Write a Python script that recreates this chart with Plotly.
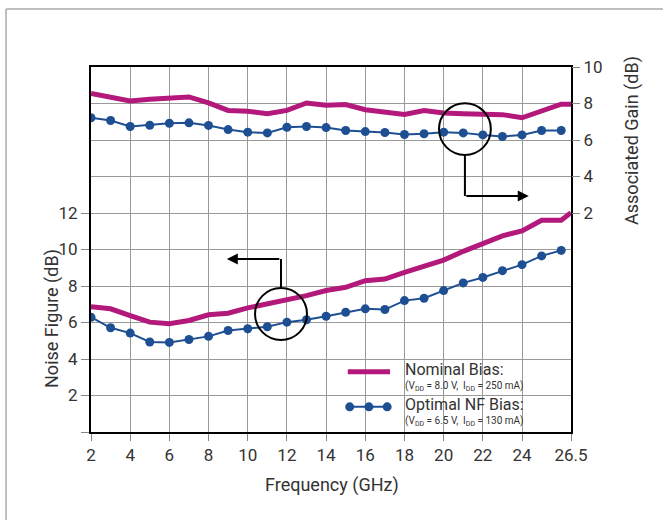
import plotly.graph_objects as go

# Frequency points (GHz)
freq = list(range(2, 27))
freq_nominal = freq + [26.5]

# Noise figure (dB), left axis
nf_nominal = [6.87, 6.75, 6.38, 6.02, 5.93, 6.11, 6.42, 6.51, 6.80, 7.02, 7.24, 7.47, 7.75,
              7.93, 8.29, 8.38, 8.75, 9.11, 9.42, 9.90, 10.33, 10.75, 11.02, 11.6, 11.6, 12.02]
nf_optimal = [6.29, 5.71, 5.42, 4.93, 4.91, 5.07, 5.24, 5.56, 5.66, 5.77, 6.02, 6.15, 6.34,
              6.56, 6.75, 6.71, 7.20, 7.33, 7.75, 8.17, 8.47, 8.84, 9.17, 9.65, 9.95]

# Associated gain (dB), right axis
gain_nominal = [8.55, 8.34, 8.14, 8.23, 8.32, 8.36, 8.03, 7.62, 7.58, 7.44, 7.62, 8.03, 7.90,
                7.94, 7.66, 7.53, 7.40, 7.62, 7.48, 7.44, 7.44, 7.39, 7.22, 7.58, 7.96, 7.96]
gain_optimal = [7.22, 7.07, 6.74, 6.81, 6.92, 6.94, 6.80, 6.57, 6.43, 6.39, 6.70, 6.74, 6.68,
                6.52, 6.46, 6.41, 6.30, 6.34, 6.43, 6.39, 6.28, 6.19, 6.28, 6.52, 6.52]

x_ticks = [2, 4, 6, 8, 10, 12, 14, 16, 18, 20, 22, 24, 26.5]
x_labels = ["2", "4", "6", "8", "10", "12", "14", "16", "18", "20", "22", "24", "26.5"]
nf_ticks = [0, 2, 4, 6, 8, 10, 12]
nf_labels = ["", "2", "4", "6", "8", "10", "12"]
gain_ticks = [2, 4, 6, 8, 10]

MAGENTA = "#B3197A"
BLUE = "#1F4F93"
TEXT = "#333333"
FONT = "Roboto, Liberation Sans, sans-serif"

fig = go.Figure()

fig.add_trace(go.Scatter(x=freq_nominal, y=nf_nominal, mode="lines",
                         line=dict(color=MAGENTA, width=5), yaxis="y"))
fig.add_trace(go.Scatter(x=freq, y=nf_optimal, mode="lines+markers",
                         line=dict(color=BLUE, width=2),
                         marker=dict(color=BLUE, size=9), yaxis="y"))
fig.add_trace(go.Scatter(x=freq_nominal, y=gain_nominal, mode="lines",
                         line=dict(color=MAGENTA, width=5), yaxis="y2"))
fig.add_trace(go.Scatter(x=freq, y=gain_optimal, mode="lines+markers",
                         line=dict(color=BLUE, width=2),
                         marker=dict(color=BLUE, size=9), yaxis="y2"))

shapes = []
line_black = dict(color="black", width=2)

# legend panel
shapes.append(dict(type="rect", xref="paper", yref="paper", x0=0.496, x1=0.998,
                   y0=0.003, y1=0.199, fillcolor="white", line=dict(width=0),
                   layer="between"))
shapes.append(dict(type="line", xref="paper", yref="paper", x0=0.535, x1=0.623,
                   y0=0.165, y1=0.165, line=dict(color=MAGENTA, width=5)))
shapes.append(dict(type="line", xref="paper", yref="paper", x0=0.537, x1=0.619,
                   y0=0.069, y1=0.069, line=dict(color=BLUE, width=2)))
for cx in (0.539, 0.579, 0.617):
    shapes.append(dict(type="circle", xref="paper", yref="paper",
                       x0=cx - 0.0094, x1=cx + 0.0094, y0=0.069 - 0.0123, y1=0.069 + 0.0123,
                       fillcolor=BLUE, line=dict(color=BLUE, width=0)))

# callout circles with leader lines
shapes.append(dict(type="circle", xref="paper", yref="paper", x0=0.725, x1=0.833,
                   y0=0.759, y1=0.901, line=line_black))
shapes.append(dict(type="line", xref="paper", yref="paper", x0=0.779, x1=0.779,
                   y0=0.759, y1=0.6466, line=line_black))
shapes.append(dict(type="circle", xref="paper", yref="paper", x0=0.3417, x1=0.45,
                   y0=0.252, y1=0.3945, line=line_black))
shapes.append(dict(type="line", xref="paper", yref="paper", x0=0.3958, x1=0.3958,
                   y0=0.3945, y1=0.474, line=line_black))

# outer frame
frame = dict(color="#AAAAAA", width=1.5)
shapes.append(dict(type="line", xref="paper", yref="paper", x0=-0.177, x1=1.2,
                   y0=1.159, y1=1.159, line=frame))
shapes.append(dict(type="line", xref="paper", yref="paper", x0=-0.177, x1=-0.177,
                   y0=1.159, y1=-0.25, line=frame))

annotations = [
    dict(xref="paper", yref="paper", x=0.912, y=0.6466, ax=-64, ay=0, text="",
         showarrow=True, arrowhead=2, arrowsize=1.1, arrowwidth=2, arrowcolor="black"),
    dict(xref="paper", yref="paper", x=0.283, y=0.474, ax=54, ay=0, text="",
         showarrow=True, arrowhead=2, arrowsize=1.1, arrowwidth=2, arrowcolor="black"),
    dict(xref="paper", yref="paper", x=0.65, y=0.170, xanchor="left", yanchor="middle",
         text="Nominal Bias:", showarrow=False, font=dict(size=16, color=TEXT)),
    dict(xref="paper", yref="paper", x=0.65, y=0.126, xanchor="left", yanchor="middle",
         text="(V<sub>DD</sub> = 8.0 V,  I<sub>DD</sub> = 250 mA)", showarrow=False,
         font=dict(size=10, color=TEXT)),
    dict(xref="paper", yref="paper", x=0.65, y=0.074, xanchor="left", yanchor="middle",
         text="Optimal NF Bias:", showarrow=False, font=dict(size=16, color=TEXT)),
    dict(xref="paper", yref="paper", x=0.65, y=0.030, xanchor="left", yanchor="middle",
         text="(V<sub>DD</sub> = 6.5 V,  I<sub>DD</sub> = 130 mA)", showarrow=False,
         font=dict(size=10, color=TEXT)),
    dict(xref="paper", yref="paper", x=-0.081, y=0.31, xanchor="center", yanchor="middle",
         textangle=-90, text="Noise Figure (dB)", showarrow=False,
         font=dict(size=18, color=TEXT)),
    dict(xref="paper", yref="paper", x=1.127, y=0.80, xanchor="center", yanchor="middle",
         textangle=-90, text="Associated Gain (dB)", showarrow=False,
         font=dict(size=18, color=TEXT)),
    dict(xref="paper", yref="paper", x=0.502, y=-0.145, xanchor="center", yanchor="middle",
         text="Frequency (GHz)", showarrow=False, font=dict(size=18, color=TEXT)),
]

fig.update_layout(
    width=663, height=520,
    margin=dict(l=91, r=92, t=67, b=88),
    paper_bgcolor="white", plot_bgcolor="white",
    font=dict(family=FONT, color=TEXT, size=16),
    showlegend=False,
    shapes=shapes,
    annotations=annotations,
    xaxis=dict(range=[2, 26.5], tickvals=x_ticks, ticktext=x_labels,
               showgrid=True, gridcolor="#999999", gridwidth=1,
               ticks="outside", ticklen=7, tickcolor="#888888",
               showline=True, linecolor="black", linewidth=2, mirror=True,
               zeroline=False, tickfont=dict(size=17, color=TEXT)),
    yaxis=dict(range=[0, 20], tickvals=nf_ticks, ticktext=nf_labels,
               showgrid=False, ticks="outside", ticklen=8, tickcolor="#888888",
               showline=True, linecolor="black", linewidth=2, mirror=True,
               zeroline=False, tickfont=dict(size=17, color=TEXT)),
    yaxis2=dict(range=[-10, 10], tickvals=gain_ticks, overlaying="y", side="right",
                showgrid=False, ticks="outside", ticklen=8, tickcolor="#888888",
                showline=False, zeroline=False, tickfont=dict(size=17, color=TEXT)),
    yaxis3=dict(range=[0, 20], dtick=2, overlaying="y", showgrid=True,
                gridcolor="#999999", gridwidth=1, showticklabels=False,
                ticks="", zeroline=False, showline=False),
)

# empty trace to activate the grid axis
fig.add_trace(go.Scatter(x=[], y=[], yaxis="y3", hoverinfo="skip"))

fig.write_html("out.html")
